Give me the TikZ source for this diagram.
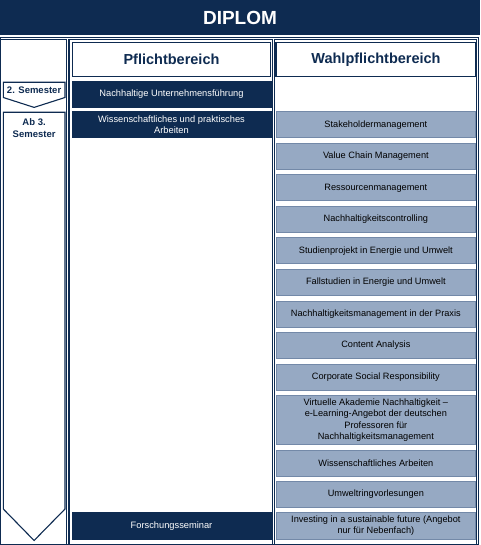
\documentclass[tikz,border=0pt]{standalone}
\usepackage{fontspec}
\setmainfont{Liberation Sans}
\definecolor{navy}{HTML}{0E2B51}
\definecolor{lightfill}{HTML}{96A9C3}
\definecolor{lightedge}{HTML}{7389A8}
\tikzset{
  colframe/.style={draw=navy, line width=1.2pt},
  darkbox/.style={fill=navy, draw=navy, line width=0.6pt, text=white, minimum width=199pt,
    inner sep=0pt, outer sep=0pt, align=center, font=\fontsize{9.3}{11.6}\selectfont},
  lightbox/.style={fill=lightfill, draw=lightedge, line width=0.9pt, text=black,
    minimum width=198.3pt, inner sep=0pt, outer sep=0pt, align=center,
    font=\fontsize{9.2}{11.3}\selectfont},
  header/.style={draw=navy, line width=1.5pt, fill=white, text=navy, minimum height=34.4pt,
    inner sep=0pt, outer sep=0pt, font=\bfseries\fontsize{14.5}{17}\selectfont},
  semtext/.style={text=navy, inner sep=0pt, align=center, font=\bfseries\fontsize{9.5}{12.6}\selectfont},
  chevron/.style={draw=navy, line width=1.1pt, fill=white, line join=miter}
}
\begin{document}
\begin{tikzpicture}[x=1pt,y=-1pt]
\useasboundingbox (0,0) rectangle (480,545);
% title bar
\node[fill=navy, minimum width=480pt, minimum height=35pt, inner sep=0pt, outer sep=0pt,
  anchor=north west, text=white, font=\bfseries\fontsize{19}{22}\selectfont] (title) at (0,0) {DIPLOM};
% frames
\draw[colframe] (0.8,37.6) rectangle (478.6,544.2);
\draw[colframe] (0.8,39.8) rectangle (66.8,544.2);
\draw[colframe] (68.9,39.8) rectangle (272.6,544.2);
\draw[colframe] (274.8,39.8) rectangle (476.6,544.2);
% headers
\node[header, minimum width=198.4pt] (pflicht) at (171.5,59.5) {Pflichtbereich};
\node[header, minimum width=200pt] (wahl) at (376,59.5) {Wahlpflichtbereich};
% semester chevrons
\draw[chevron] (3.3,82.3) -- (65,82.3) -- (65,97.5) -- (34.1,107.4) -- (3.3,97.5) -- cycle;
\node[semtext] (sem2) at (34.1,90.2) {2. Semester};
\draw[chevron] (3.3,112.3) -- (65,112.3) -- (65,509) -- (34.1,540.5) -- (3.3,509) -- cycle;
\node[semtext] (sem3) at (34.1,128) {Ab 3.\\Semester};
% mandatory boxes
\node[darkbox, minimum height=25.6pt] (p1) at (171.5,94.5) {Nachhaltige Unternehmensführung};
\node[darkbox, minimum height=26pt] (p2) at (171.5,124.7) {Wissenschaftliches und praktisches\\Arbeiten};
\node[darkbox, minimum height=26.3pt] (p3) at (171.5,525.85) {Forschungsseminar};
% elective boxes
\node[lightbox, minimum height=26pt] (w1) at (375.85,124.7) {Stakeholdermanagement};
\node[lightbox, minimum height=26pt] (w2) at (375.85,156.25) {Value Chain Management};
\node[lightbox, minimum height=26pt] (w3) at (375.85,187.8) {Ressourcenmanagement};
\node[lightbox, minimum height=26pt] (w4) at (375.85,219.35) {Nachhaltigkeitscontrolling};
\node[lightbox, minimum height=26pt] (w5) at (375.85,250.9) {Studienprojekt in Energie und Umwelt};
\node[lightbox, minimum height=26pt] (w6) at (375.85,282.45) {Fallstudien in Energie und Umwelt};
\node[lightbox, minimum height=26pt] (w7) at (375.85,314.0) {Nachhaltigkeitsmanagement in der Praxis};
\node[lightbox, minimum height=26pt] (w8) at (375.85,345.55) {Content Analysis};
\node[lightbox, minimum height=26pt] (w9) at (375.85,377.1) {Corporate Social Responsibility};
\node[lightbox, minimum height=48.6pt] (w10) at (375.85,420.0) {Virtuelle Akademie Nachhaltigkeit --\\e-Learning-Angebot der deutschen\\Professoren für\\Nachhaltigkeitsmanagement};
\node[lightbox, minimum height=25.6pt] (w11) at (375.85,463.2) {Wissenschaftliches Arbeiten};
\node[lightbox, minimum height=25.6pt] (w12) at (375.85,494.5) {Umweltringvorlesungen};
\node[lightbox, minimum height=26.3pt] (w13) at (375.85,525.85) {Investing in a sustainable future (Angebot\\nur für Nebenfach)};
\end{tikzpicture}
\end{document}
